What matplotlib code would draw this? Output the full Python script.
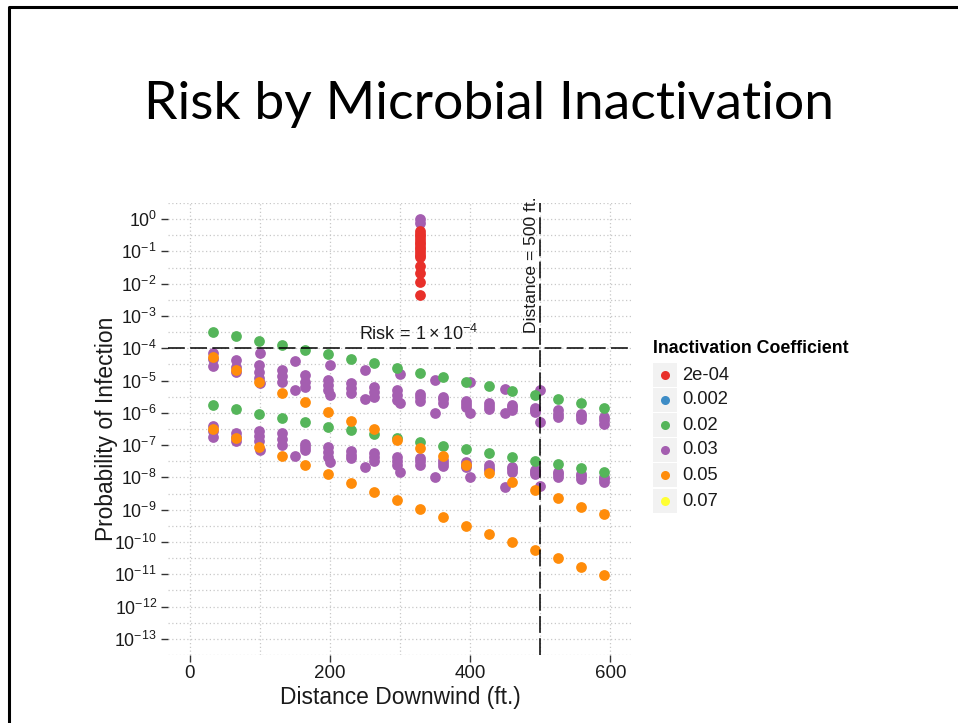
import numpy as np
import matplotlib.pyplot as plt
from matplotlib.patches import Rectangle
from matplotlib.lines import Line2D
from matplotlib.ticker import FixedLocator, NullFormatter

W, H = 958, 723

# stations downwind (ft), 10 m apart
dist = [32.8, 65.6, 98.4, 131.2, 164.0, 196.9, 229.7, 262.5, 295.3,
        328.1, 360.9, 393.7, 426.5, 459.3, 492.1, 524.9, 557.7, 590.6]
# extra stations on round distances
dist_round = [100, 150, 200, 250, 300, 350, 400, 450, 500]

# all risk values below are log10(probability)
green_hi = [-3.51, -3.62, -3.77, -3.90, -4.06, -4.19, -4.34, -4.47, -4.62,
            -4.76, -4.90, -5.04, -5.17, -5.32, -5.45, -5.57, -5.71, -5.84]
green_lo = [-5.76, -5.89, -6.04, -6.17, -6.29, -6.43, -6.53, -6.66, -6.79,
            -6.89, -7.03, -7.13, -7.25, -7.38, -7.48, -7.59, -7.72, -7.84]
orange_hi = [-4.28, -4.67, -5.04, -5.37, -5.67, -5.97, -6.25, -6.51, -6.84,
             -7.10, -7.34, -7.62, -7.87, -8.13, -8.39, -8.65, -8.91, -9.13]
orange_lo = [-6.51, -6.79, -7.05, -7.34, -7.62, -7.89, -8.16, -8.44, -8.70,
             -8.97, -9.23, -9.49, -9.75, -10.00, -10.26, -10.51, -10.77, -11.03]
purple_hi = [[-4.16, -4.34, -4.55], [-4.37, -4.57, -4.73], [-4.52, -4.73, -4.93],
             [-4.67, -4.86, -5.04], [-4.83, -5.04, -5.19], [-4.98, -5.14, -5.29],
             [-5.09, -5.24, -5.40], [-5.19, -5.35, -5.50], [-5.29, -5.45, -5.60],
             [-5.42, -5.52, -5.62], [-5.50, -5.58, -5.68], [-5.64, -5.72, -5.82],
             [-5.70, -5.78, -5.87], [-5.76, -5.83, -5.90], [-5.85, -5.91, -5.98],
             [-5.92, -6.02, -6.12], [-6.02, -6.11, -6.20], [-6.12, -6.22, -6.33]]
purple_lo = [[-6.41, -6.57, -6.75], [-6.63, -6.76, -6.86], [-6.55, -6.72, -6.88],
             [-6.63, -6.81, -7.00], [-6.95, -7.05, -7.15], [-7.05, -7.20, -7.36],
             [-7.17, -7.31, -7.41], [-7.25, -7.38, -7.48], [-7.36, -7.48, -7.62],
             [-7.40, -7.50, -7.60], [-7.46, -7.55, -7.64], [-7.53, -7.60, -7.68],
             [-7.62, -7.70, -7.78], [-7.67, -7.75, -7.83], [-7.76, -7.83, -7.90],
             [-7.82, -7.90, -7.98], [-7.89, -7.97, -8.06], [-7.98, -8.05, -8.13]]
purple_round_hi = [-4.16, -4.39, -4.52, -4.67, -4.81, -4.98, -5.05, -5.27, -5.29]
purple_round_mid = [-5.09, -5.29, -5.45, -5.58, -5.69, -6.00, -6.00, -6.00, -6.29]
purple_round_lo = [-7.15, -7.34, -7.51, -7.67, -7.82, -7.98, -7.98, -8.29, -8.27]
# near-source column at 328 ft
red_x = 328.1
red_vals = [-0.38, -0.45, -0.53, -0.62, -0.70, -0.77, -0.86, -0.94, -1.02,
            -1.10, -1.18, -1.45, -1.68, -1.96, -2.35]
purple_top = [0.0, -0.13]

coef_labels = ['2e-04', '0.002', '0.02', '0.03', '0.05', '0.07']
coef_colors = ['#E8302A', '#3D8CC6', '#55B55A', '#A45EB0', '#FF8C0A', '#FFFF33']
c_red, c_blue, c_green, c_purple, c_orange, c_yellow = coef_colors

risk_limit = 1e-4
dist_limit = 500
xticks = [0, 200, 400, 600]
yexp = list(range(-13, 1))

plt.rcParams['font.family'] = ['Liberation Sans', 'DejaVu Sans']
plt.rcParams['mathtext.fontset'] = 'custom'
plt.rcParams['mathtext.rm'] = 'Liberation Sans'
plt.rcParams['mathtext.it'] = 'Liberation Sans:italic'
plt.rcParams['mathtext.bf'] = 'Liberation Sans:bold'
plt.rcParams['mathtext.default'] = 'regular'

fig = plt.figure(figsize=(W / 100, H / 100), dpi=100)


def fx(px):
    return px / W


def fy(py):
    return 1 - py / H


ax = fig.add_axes([fx(168), fy(655), fx(632) - fx(168), fy(203) - fy(655)])

S = 60
# purple points
xp, yp = [], []
for x, hi, lo in zip(dist, purple_hi, purple_lo):
    for v in hi + lo:
        xp.append(x)
        yp.append(v)
for x, a, b, c in zip(dist_round, purple_round_hi, purple_round_mid, purple_round_lo):
    xp += [x, x, x]
    yp += [a, b, c]
xp += [red_x] * len(purple_top)
yp += purple_top
ax.scatter(xp, np.power(10.0, yp), s=S, color=c_purple, linewidths=0, zorder=3)

ax.scatter(dist + dist, np.power(10.0, green_hi + green_lo), s=S, color=c_green,
           linewidths=0, zorder=4)
ax.scatter(dist + dist, np.power(10.0, orange_hi + orange_lo), s=S, color=c_orange,
           linewidths=0, zorder=5)
ax.scatter([red_x] * len(red_vals), np.power(10.0, red_vals), s=S, color=c_red,
           linewidths=0, zorder=6)

# reference lines
ax.axhline(risk_limit, color='black', lw=1.1, dashes=(11, 3.5), zorder=7)
ax.axvline(dist_limit, color='black', lw=1.1, dashes=(11, 3.5), zorder=7)
ax.text(326, 10 ** -3.55, r'Risk$\,=\,1\times10^{-4}$', ha='center', va='center',
        fontsize=13, color='#1a1a1a', zorder=8)
ax.text(487, 10 ** -1.42, 'Distance = 500 ft.', rotation=90, ha='center', va='center',
        fontsize=12.6, color='#1a1a1a', zorder=8)

ax.set_yscale('log')
ax.set_xlim(-31, 631)
ax.set_ylim(10 ** -13.5, 10 ** 0.5)

ax.set_xticks(xticks)
ax.set_xticklabels([str(t) for t in xticks])
ax.xaxis.set_minor_locator(FixedLocator([100, 300, 500]))
ax.set_yticks([10.0 ** e for e in yexp])
ax.set_yticklabels([r'$10^{%d}$' % e for e in yexp])
ax.yaxis.set_minor_locator(FixedLocator([10.0 ** (e + 0.5) for e in range(-14, 1)]))
ax.yaxis.set_minor_formatter(NullFormatter())

ax.grid(True, which='both', color='#c8c8c8', lw=0.9, ls=(0, (1, 2)))
ax.set_axisbelow(True)
for sp in ax.spines.values():
    sp.set_visible(False)
ax.tick_params(which='major', length=5, width=1, color='#333333', labelsize=13.5,
               labelcolor='#1a1a1a', pad=2)
ax.tick_params(axis='y', which='major', labelsize=12.8, pad=3)
ax.tick_params(which='minor', length=0)

ax.set_xlabel('Distance Downwind (ft.)', fontsize=16.4, color='#1a1a1a', labelpad=3)
ax.set_ylabel('Probability of Infection', fontsize=16.4, color='#1a1a1a')
ax.yaxis.set_label_coords((118 - 168) / 464, 0.5)

# legend
fig.text(fx(653), fy(348), 'Inactivation Coefficient', fontsize=12.8, fontweight='bold',
         ha='left', va='center')
rows = [375, 400, 425, 450, 475, 501]
for lab, col, ry in zip(coef_labels, coef_colors, rows):
    fig.add_artist(Rectangle((fx(653), fy(ry + 12)), fx(24), 24 / H,
                             transform=fig.transFigure, color='#f2f2f2', lw=0))
    fig.add_artist(Line2D([fx(665)], [fy(ry)], transform=fig.transFigure, marker='o',
                          markersize=6.5, color=col, markeredgewidth=0, ls='none'))
    fig.text(fx(682), fy(ry), lab, fontsize=13.2, ha='left', va='center', color='#1a1a1a')

# slide title and frame
fig.text(fx(489), fy(105), 'Risk by Microbial Inactivation', fontsize=38.5,
         family=['Lato', 'DejaVu Sans'], ha='center', va='center')
fig.add_artist(Line2D([fx(9), fx(9), 1.0], [0.0, fy(7), fy(7)], transform=fig.transFigure,
                      color='black', lw=2.2))

fig.savefig('out.png', dpi=100)
